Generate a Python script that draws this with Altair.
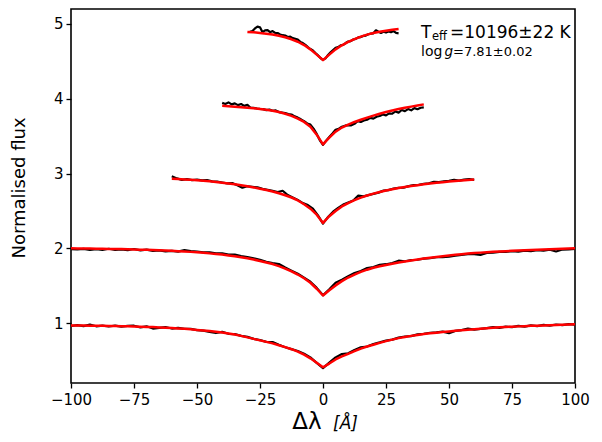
import altair as alt
import pandas as pd

# ---- sampling grids (Angstrom offsets from line centre) ----
x_wide = [-100, -97.5, -95, -92.5, -90, -87.5, -85, -82.5, -80, -77.5,
          -75, -72.5, -70, -67.5, -65, -62.5, -60, -57.5, -55, -52.5,
          -50, -47.5, -45, -42.5, -40, -37.5, -35, -32.5, -30, -27.5,
          -25, -22.5, -20, -17.5, -15, -12.5, -10, -7.5, -5, -2.5,
          0,
          2.5, 5, 7.5, 10, 12.5, 15, 17.5, 20, 22.5, 25,
          27.5, 30, 32.5, 35, 37.5, 40, 42.5, 45, 47.5, 50,
          52.5, 55, 57.5, 60, 62.5, 65, 67.5, 70, 72.5, 75,
          77.5, 80, 82.5, 85, 87.5, 90, 92.5, 95, 97.5, 100]
x_m3 = x_wide[16:65]
x_m4 = x_wide[24:57]
x_m5 = x_wide[28:53]
x_o3 = [-60, -58, -56, -54, -52, -50, -48, -46, -44, -42,
        -40, -38, -36, -34, -32, -30, -28, -26, -24, -22,
        -20, -18, -16, -14, -12, -10, -8, -6, -4, -2,
        0,
        2, 4, 6, 8, 10, 12, 14, 16, 18, 20,
        22, 24, 26, 28, 30, 32, 34, 36, 38, 40,
        42, 44, 46, 48, 50, 52, 54, 56, 58, 60]
x_o4 = [-40, -38.75, -37.5, -36.25, -35, -33.75, -32.5, -31.25, -30, -28.75,
        -27.5, -26.25, -25, -23.75, -22.5, -21.25, -20, -18.75, -17.5, -16.25,
        -15, -13.75, -12.5, -11.25, -10, -8.75, -7.5, -6.25, -5, -3.75,
        -2.5, -1.25, 0,
        1.25, 2.5, 3.75, 5, 6.25, 7.5, 8.75, 10, 11.25, 12.5,
        13.75, 15, 16.25, 17.5, 18.75, 20, 21.25, 22.5, 23.75, 25,
        26.25, 27.5, 28.75, 30, 31.25, 32.5, 33.75, 35, 36.25, 37.5,
        38.75, 40]
x_o5 = [-29, -28, -27, -26, -25, -24, -23, -22, -21, -20,
        -19, -18, -17, -16, -15, -14, -13, -12, -11, -10,
        -9, -8, -7, -6, -5, -4, -3, -2, -1, 0,
        1, 2, 3, 4, 5, 6, 7, 8, 9, 10,
        11, 12, 13, 14, 15, 16, 17, 18, 19, 20,
        21, 22, 23, 24, 25, 26, 27, 28, 29, 30]

# ---- observed (black) spectra, offset ----
obs1 = [0.962, 0.974, 0.960, 0.980, 0.958, 0.968, 0.955, 0.967, 0.953, 0.964,
        0.966, 0.943, 0.958, 0.928, 0.938, 0.948, 0.928, 0.938, 0.923, 0.924,
        0.906, 0.901, 0.883, 0.868, 0.884, 0.858, 0.854, 0.830, 0.817, 0.790,
        0.774, 0.750, 0.747, 0.710, 0.678, 0.653, 0.627, 0.590, 0.542, 0.470,
        0.398,
        0.472, 0.542, 0.587, 0.598, 0.642, 0.677, 0.688, 0.722, 0.743, 0.767,
        0.780, 0.807, 0.822, 0.826, 0.850, 0.858, 0.872, 0.878, 0.887, 0.866,
        0.897, 0.908, 0.927, 0.913, 0.924, 0.933, 0.947, 0.938, 0.954, 0.946,
        0.964, 0.953, 0.970, 0.961, 0.977, 0.966, 0.982, 0.973, 0.987, 0.980]
obs2 = [1.988, 1.985, 1.994, 1.978, 1.990, 1.980, 1.995, 1.978, 1.986, 1.976,
        1.992, 1.973, 1.983, 1.966, 1.974, 1.960, 1.967, 1.956, 1.977, 1.963,
        1.957, 1.948, 1.947, 1.933, 1.932, 1.916, 1.917, 1.896, 1.882, 1.866,
        1.847, 1.820, 1.802, 1.790, 1.743, 1.702, 1.660, 1.607, 1.553, 1.472,
        1.373,
        1.452, 1.540, 1.582, 1.628, 1.670, 1.698, 1.737, 1.750, 1.780, 1.788,
        1.804, 1.835, 1.828, 1.842, 1.848, 1.862, 1.868, 1.882, 1.883, 1.890,
        1.903, 1.914, 1.923, 1.924, 1.913, 1.940, 1.943, 1.952, 1.953, 1.962,
        1.956, 1.970, 1.963, 1.977, 1.970, 1.982, 1.958, 1.984, 1.986, 1.994]
obs3 = [2.965, 2.935, 2.915, 2.925, 2.912, 2.918, 2.908, 2.912, 2.895, 2.892,
        2.880, 2.868, 2.872, 2.845, 2.810, 2.830, 2.822, 2.815, 2.795, 2.782,
        2.768, 2.752, 2.770, 2.712, 2.680, 2.648, 2.605, 2.578, 2.530, 2.440,
        2.330,
        2.420, 2.490, 2.540, 2.585, 2.612, 2.640, 2.705, 2.695, 2.712, 2.728,
        2.745, 2.772, 2.778, 2.800, 2.808, 2.812, 2.832, 2.845, 2.850, 2.862,
        2.870, 2.890, 2.885, 2.895, 2.902, 2.915, 2.905, 2.918, 2.925, 2.915]
obs4 = [3.945, 3.930, 3.952, 3.925, 3.938, 3.915, 3.930, 3.905, 3.918, 3.880,
        3.878, 3.870, 3.865, 3.862, 3.848, 3.855, 3.840, 3.845, 3.822, 3.815,
        3.808, 3.795, 3.790, 3.765, 3.748, 3.725, 3.700, 3.670, 3.655, 3.600,
        3.530, 3.445, 3.385,
        3.440, 3.490, 3.535, 3.585, 3.600, 3.625, 3.640, 3.648, 3.645, 3.665,
        3.700, 3.690, 3.710, 3.720, 3.745, 3.735, 3.760, 3.770, 3.790, 3.778,
        3.805, 3.800, 3.830, 3.815, 3.850, 3.835, 3.862, 3.845, 3.875, 3.860,
        3.880, 3.885]
obs5 = [4.895, 4.905, 4.940, 4.965, 4.955, 4.890, 4.915, 4.918, 4.890, 4.905,
        4.880, 4.878, 4.860, 4.850, 4.845, 4.825, 4.830, 4.810, 4.800, 4.790,
        4.760, 4.745, 4.720, 4.690, 4.665, 4.645, 4.610, 4.580, 4.545, 4.520,
        4.540, 4.585, 4.620, 4.650, 4.680, 4.690, 4.715, 4.720, 4.745, 4.765,
        4.770, 4.792, 4.800, 4.820, 4.825, 4.840, 4.845, 4.862, 4.870, 4.875,
        4.915, 4.895, 4.880, 4.895, 4.885, 4.900, 4.890, 4.905, 4.880, 4.875]

# ---- model fits (red) ----
mod1 = [0.970, 0.969, 0.968, 0.967, 0.965, 0.964, 0.963, 0.961, 0.960, 0.958,
        0.956, 0.953, 0.950, 0.947, 0.943, 0.940, 0.935, 0.930, 0.925, 0.918,
        0.910, 0.903, 0.895, 0.885, 0.875, 0.862, 0.848, 0.830, 0.810, 0.790,
        0.770, 0.750, 0.730, 0.705, 0.680, 0.652, 0.620, 0.580, 0.530, 0.470,
        0.410,
        0.460, 0.515, 0.555, 0.590, 0.625, 0.660, 0.688, 0.712, 0.737, 0.760,
        0.780, 0.800, 0.815, 0.830, 0.843, 0.855, 0.864, 0.873, 0.882, 0.890,
        0.898, 0.905, 0.912, 0.920, 0.926, 0.932, 0.939, 0.945, 0.949, 0.953,
        0.957, 0.960, 0.964, 0.967, 0.970, 0.973, 0.976, 0.979, 0.982, 0.985]
mod2 = [2.000, 1.999, 1.998, 1.997, 1.995, 1.994, 1.993, 1.992, 1.990, 1.988,
        1.986, 1.983, 1.980, 1.977, 1.975, 1.972, 1.968, 1.963, 1.958, 1.953,
        1.947, 1.940, 1.933, 1.925, 1.917, 1.906, 1.895, 1.882, 1.868, 1.850,
        1.830, 1.810, 1.790, 1.762, 1.730, 1.692, 1.650, 1.600, 1.540, 1.460,
        1.370,
        1.440, 1.505, 1.562, 1.610, 1.650, 1.685, 1.715, 1.740, 1.760, 1.778,
        1.795, 1.810, 1.825, 1.838, 1.851, 1.863, 1.874, 1.885, 1.895, 1.905,
        1.914, 1.922, 1.930, 1.937, 1.943, 1.949, 1.954, 1.959, 1.963, 1.967,
        1.971, 1.975, 1.979, 1.982, 1.986, 1.989, 1.992, 1.995, 1.997, 2.000]
mod3 = [2.930, 2.926, 2.921, 2.916, 2.910, 2.903, 2.896, 2.888, 2.878, 2.868,
        2.857, 2.844, 2.830, 2.815, 2.798, 2.780, 2.760, 2.737, 2.710, 2.680,
        2.640, 2.590, 2.530, 2.450,
        2.340,
        2.430, 2.500, 2.560, 2.605, 2.645, 2.678, 2.707, 2.732, 2.754, 2.773,
        2.790, 2.806, 2.820, 2.833, 2.845, 2.856, 2.866, 2.876, 2.885, 2.893,
        2.900, 2.907, 2.913, 2.920]
mod4 = [3.905, 3.900, 3.894, 3.887, 3.880, 3.872, 3.863, 3.852, 3.840, 3.822,
        3.800, 3.772, 3.735, 3.690, 3.625, 3.520,
        3.390,
        3.480, 3.560, 3.615, 3.655, 3.690, 3.720, 3.748, 3.775, 3.800, 3.822,
        3.843, 3.862, 3.880, 3.895, 3.910, 3.925]
mod5 = [4.894, 4.888, 4.880, 4.870, 4.858, 4.842, 4.822, 4.795, 4.762, 4.718,
        4.660, 4.590,
        4.516,
        4.590, 4.660, 4.715, 4.760, 4.798, 4.830, 4.857, 4.878, 4.895, 4.910,
        4.922, 4.932]

x_ticks = [-100, -75, -50, -25, 0, 25, 50, 75, 100]
y_ticks = [1, 2, 3, 4, 5]


def frame(xs, ys, name):
    assert len(xs) == len(ys), (name, len(xs), len(ys))
    return pd.DataFrame({"x": xs, "y": ys, "seg": name})


df_obs = pd.concat([frame(x_wide, obs1, "o1"), frame(x_wide, obs2, "o2"),
                    frame(x_o3, obs3, "o3"), frame(x_o4, obs4, "o4"),
                    frame(x_o5, obs5, "o5")], ignore_index=True)
df_mod = pd.concat([frame(x_wide, mod1, "m1"), frame(x_wide, mod2, "m2"),
                    frame(x_m3, mod3, "m3"), frame(x_m4, mod4, "m4"),
                    frame(x_m5, mod5, "m5")], ignore_index=True)

FONT = "DejaVu Sans"
xs = alt.X("x:Q",
           scale=alt.Scale(domain=[-100, 100], nice=False, zero=False),
           axis=alt.Axis(values=x_ticks, title=None, grid=False, domain=False,
                         tickSize=5, tickWidth=1.3, tickColor="black",
                         labelFontSize=15, labelFont=FONT, labelColor="black",
                         labelPadding=4, labelFlush=False, format="d"))
ys = alt.Y("y:Q",
           scale=alt.Scale(domain=[0.2, 5.2], nice=False, zero=False),
           axis=alt.Axis(values=y_ticks, title=None, grid=False, domain=False,
                         tickSize=5, tickWidth=1.3, tickColor="black",
                         labelFontSize=15, labelFont=FONT, labelColor="black",
                         labelPadding=3, format="d"))

obs = alt.Chart(df_obs).mark_line(color="black", strokeWidth=2.2,
                                  strokeJoin="round").encode(
    x=xs, y=ys, detail="seg:N")
mod = alt.Chart(df_mod).mark_line(color="#ff0000", strokeWidth=2.5,
                                  strokeJoin="round").encode(
    x="x:Q", y="y:Q", detail="seg:N")


def label(text, x, y, size, style="normal", align="left", baseline="alphabetic",
          angle=0, weight="normal"):
    kw = dict(text=text, font=FONT, fontSize=size, fontStyle=style,
              align=align, baseline=baseline, color="black", fontWeight=weight)
    if angle:
        kw["angle"] = angle
    return alt.Chart(pd.DataFrame({"a": [0]})).mark_text(**kw).encode(
        x=alt.value(x), y=alt.value(y))


texts = [
    label("Normalised flux", -51, 179, 18, align="center", baseline="middle",
          angle=270),
    label("Δλ", 236, 419.5, 23, align="center"),
    label("[Å]", 262, 419.5, 17, style="italic"),
    label("T", 350, 28.5, 17),
    label("eff", 361, 31, 11.5),
    label("=10196±22 K", 379, 28.5, 17),
    label("log", 350, 47, 14),
    label("g", 373.5, 47, 13.5, style="italic"),
    label("=7.81±0.02", 382, 47, 13),
]

chart = alt.layer(obs, mod, *texts).properties(
    width=504, height=374,
    autosize=alt.AutoSizeParams(type="none"),
    padding={"left": 63, "top": 1, "right": 15, "bottom": 51},
).configure_view(stroke="black", strokeWidth=1.6)

chart.save("out.html", embed_options={"renderer": "svg", "actions": False})
